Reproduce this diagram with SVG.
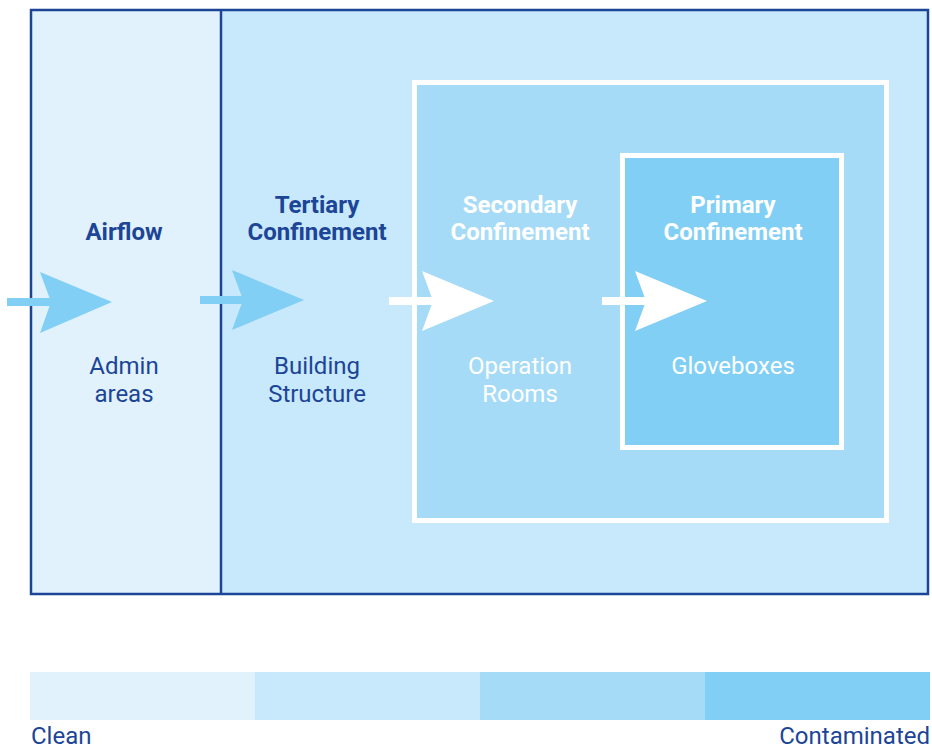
<svg xmlns="http://www.w3.org/2000/svg" width="932" height="749" viewBox="0 0 932 749">
<style>
.t{font-family:Roboto,"Liberation Sans",sans-serif;font-size:24px;text-anchor:middle}
.b{font-weight:bold}
.d{fill:#1c4597}
.w{fill:#ffffff}
.ab{fill:#81cff5}
.aw{fill:#ffffff}
</style>
<rect width="932" height="749" fill="#ffffff"/>
<g id="legend">
<rect x="30" y="672" width="225" height="48" fill="#e1f2fd"/>
<rect x="255" y="672" width="225" height="48" fill="#c8e8fb"/>
<rect x="480" y="672" width="225" height="48" fill="#a5dbf7"/>
<rect x="705" y="672" width="225" height="48" fill="#81cff5"/>
<text class="t d" x="31" y="744" style="text-anchor:start">Clean</text>
<text class="t d" x="930" y="744" style="text-anchor:end">Contaminated</text>
</g>
<g id="admin">
<rect x="31" y="10" width="190" height="584" fill="#e1f2fd"/>
</g>
<g id="tertiary">
<rect x="221" y="10" width="707" height="584" fill="#c8e8fb"/>
</g>
<g id="frame">
<rect x="31" y="10" width="897" height="584" fill="none" stroke="#1c4597" stroke-width="2.5"/>
<line x1="221" y1="10" x2="221" y2="594" stroke="#1c4597" stroke-width="2.5"/>
</g>
<g id="secondary">
<rect x="414.5" y="82.5" width="472" height="438" fill="#a5dbf7" stroke="#ffffff" stroke-width="5"/>
</g>
<g id="primary">
<rect x="622.5" y="155.5" width="219" height="292" fill="#81cff5" stroke="#ffffff" stroke-width="5"/>
</g>
<g id="labels">
<text class="t b d" x="124" y="240">Airflow</text>
<text class="t d" x="124" y="374">Admin</text>
<text class="t d" x="124" y="402">areas</text>
<text class="t b d" x="317" y="213">Tertiary</text>
<text class="t b d" x="317" y="240">Confinement</text>
<text class="t d" x="317" y="374">Building</text>
<text class="t d" x="317" y="402">Structure</text>
<text class="t b w" x="520" y="213">Secondary</text>
<text class="t b w" x="520" y="240">Confinement</text>
<text class="t w" x="520" y="374">Operation</text>
<text class="t w" x="520" y="402">Rooms</text>
<text class="t b w" x="733" y="213">Primary</text>
<text class="t b w" x="733" y="240">Confinement</text>
<text class="t w" x="733" y="374">Gloveboxes</text>
</g>
<g id="connectors">
<rect class="ab" x="7" y="298" width="46" height="8"/>
<polygon class="ab" points="40,272 112,302 40,333 51,302"/>
<rect class="ab" x="200" y="296" width="45" height="8"/>
<polygon class="ab" points="232,270 304,300 232,330 243,300"/>
<rect class="aw" x="389" y="297" width="46" height="8"/>
<polygon class="aw" points="422,271 494,301 422,331 433,301"/>
<rect class="aw" x="602" y="297" width="46" height="8"/>
<polygon class="aw" points="635,271 707,301 635,331 646,301"/>
</g>
</svg>
